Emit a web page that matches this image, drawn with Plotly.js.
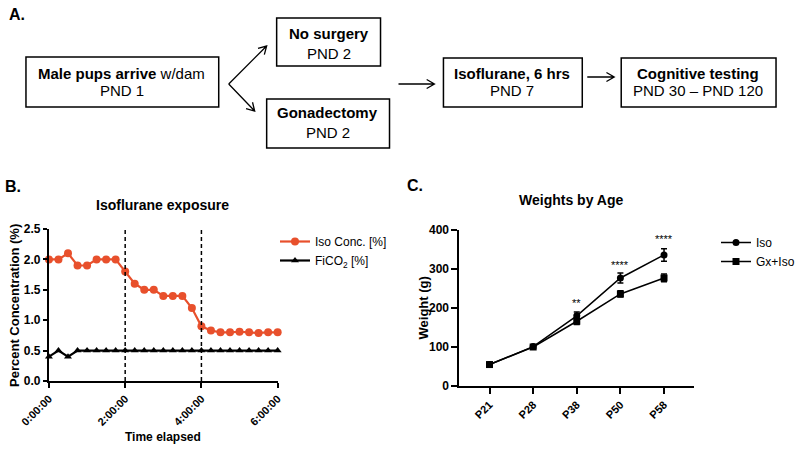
<!DOCTYPE html>
<html>
<head>
<meta charset="utf-8">
<script src="https://cdn.plot.ly/plotly-3.0.1.min.js"></script>
<style>
  body { margin: 0; background: #fff; }
  #chart { width: 800px; height: 449px; }
</style>
</head>
<body>
<div id="chart"></div>
<script>
// Panel B data - time in minutes since start of exposure
const timeMin = [0, 15, 30, 45, 60, 75, 90, 105, 120, 135, 150, 165, 180,
                 195, 210, 225, 240, 255, 270, 285, 300, 315, 330, 345, 360];
const isoConc = [2.0, 2.0, 2.1, 1.9, 1.9, 2.0, 2.0, 2.0, 1.8, 1.6, 1.5, 1.5, 1.4,
                 1.4, 1.4, 1.2, 0.9, 0.83, 0.8, 0.8, 0.81, 0.8, 0.79, 0.8, 0.8];
const fiCO2 = [0.4, 0.5, 0.4, 0.5, 0.5, 0.5, 0.5, 0.5, 0.5, 0.5, 0.5, 0.5, 0.5,
               0.5, 0.5, 0.5, 0.5, 0.5, 0.5, 0.5, 0.5, 0.5, 0.5, 0.5, 0.5];
const timeTickVals = [0, 120, 240, 360];
const timeTickText = ['0:00:00', '2:00:00', '4:00:00', '6:00:00'];
const phaseMarks = [120, 240];

// Panel C data - weights (g)
const ages = ['P21', 'P28', 'P38', 'P50', 'P58'];
const isoWeight = [55, 101, 180, 277, 336];
const isoErr = [3, 4, 10, 13, 16];
const gxWeight = [55, 100, 166, 236, 277];
const gxErr = [3, 4, 8, 8, 10];
const sigAges = ['P38', 'P50', 'P58'];
const sigY = [213, 310, 376];
const sigText = ['**', '****', '****'];

const W = 800, H = 449;
const FONT = 'Liberation Sans, Arial, sans-serif';
const ORANGE = '#E8502C';

// pixel -> paper helpers for the flow chart in panel A
const px = x => x / W;
const py = y => 1 - y / H;

function box(x0, y0, x1, y1) {
    return {
        type: 'rect', xref: 'paper', yref: 'paper',
        x0: px(x0), x1: px(x1), y0: py(y1), y1: py(y0),
        line: { color: '#000', width: 1.5 }, fillcolor: 'rgba(0,0,0,0)'
    };
}

// open "->" arrow drawn as a path
function arrow(x0, y0, x1, y1) {
    const len = Math.hypot(x1 - x0, y1 - y0);
    const ux = (x1 - x0) / len, uy = (y1 - y0) / len;
    const hl = 9, a = Math.PI / 6;
    const hx1 = x1 - hl * (ux * Math.cos(a) - uy * Math.sin(a));
    const hy1 = y1 - hl * (uy * Math.cos(a) + ux * Math.sin(a));
    const hx2 = x1 - hl * (ux * Math.cos(a) + uy * Math.sin(a));
    const hy2 = y1 - hl * (uy * Math.cos(a) - ux * Math.sin(a));
    const p = (x, y) => px(x) + ' ' + py(y);
    return {
        type: 'path', xref: 'paper', yref: 'paper',
        path: 'M ' + p(x0, y0) + ' L ' + p(x1, y1) +
              ' M ' + p(hx1, hy1) + ' L ' + p(x1, y1) + ' L ' + p(hx2, hy2),
        line: { color: '#000', width: 1.3 }
    };
}

function label(x, y, text, size, extra) {
    return Object.assign({
        xref: 'paper', yref: 'paper', x: px(x), y: py(y),
        xanchor: 'center', yanchor: 'middle',
        text: text, showarrow: false,
        font: { family: FONT, size: size, color: '#000' }
    }, extra || {});
}

const traces = [
    {
        x: timeMin, y: isoConc, name: 'Iso Conc. [%]',
        mode: 'lines+markers', cliponaxis: false,
        line: { color: ORANGE, width: 2.2 },
        marker: { color: ORANGE, size: 8, symbol: 'circle' },
        xaxis: 'x', yaxis: 'y', legend: 'legend'
    },
    {
        x: timeMin, y: fiCO2, name: 'FiCO<sub>2</sub> [%]',
        mode: 'lines+markers', cliponaxis: false,
        line: { color: '#000', width: 2.2 },
        marker: { color: '#000', size: 7, symbol: 'triangle-up' },
        xaxis: 'x', yaxis: 'y', legend: 'legend'
    },
    {
        x: ages, y: isoWeight, name: 'Iso',
        mode: 'lines+markers', cliponaxis: false,
        line: { color: '#000', width: 1.5 },
        marker: { color: '#000', size: 7, symbol: 'circle' },
        error_y: { type: 'data', array: isoErr, color: '#000', thickness: 1.5, width: 3 },
        xaxis: 'x2', yaxis: 'y2', legend: 'legend2'
    },
    {
        x: ages, y: gxWeight, name: 'Gx+Iso',
        mode: 'lines+markers', cliponaxis: false,
        line: { color: '#000', width: 1.5 },
        marker: { color: '#000', size: 7, symbol: 'square' },
        error_y: { type: 'data', array: gxErr, color: '#000', thickness: 1.5, width: 3 },
        xaxis: 'x2', yaxis: 'y2', legend: 'legend2'
    }
];

const axisBase = {
    showline: true, linecolor: '#000', linewidth: 2,
    ticks: 'outside', tickcolor: '#000', tickwidth: 2, ticklen: 5,
    showgrid: false, zeroline: false,
    tickfont: { family: FONT, size: 11, color: '#000', weight: 'bold' }
};

const shapes = [
    // panel A boxes
    box(26, 57, 219, 107),
    box(277, 18, 381, 66),
    box(267, 99, 390, 148),
    box(444, 58, 583, 107),
    box(622, 58, 777, 107),
    // panel A arrows
    arrow(229, 84, 267, 46),
    arrow(229, 84, 255, 111),
    arrow(399, 84, 435, 84),
    arrow(588, 77, 615, 77)
];
phaseMarks.forEach(t => shapes.push({
    type: 'line', xref: 'x', yref: 'y', x0: t, x1: t, y0: 0, y1: 2.5,
    line: { color: '#000', width: 1.5, dash: '4px,3px' }
}));

const annotations = [
    label(17, 14, '<b>A.</b>', 16),
    label(13, 187, '<b>B.</b>', 16),
    label(416, 185, '<b>C.</b>', 16),
    // flow chart box texts, one line each
    label(122, 74, '<b>Male pups arrive</b> w/dam', 15),
    label(122, 90, 'PND 1', 15),
    label(329, 33, '<b>No surgery</b>', 15),
    label(329, 53, 'PND 2', 15),
    label(328, 113, '<b>Gonadectomy</b>', 15),
    label(328, 132, 'PND 2', 15),
    label(513, 73, '<b>Isoflurane, 6 hrs</b>', 15),
    label(513, 90, 'PND 7', 15),
    label(699, 73, '<b>Cognitive testing</b>', 15),
    label(699, 90, 'PND 30 \u2013 PND 120', 15),
    label(163, 205, '<b>Isoflurane exposure</b>', 14),
    label(572, 200, '<b>Weights by Age</b>', 14),
    label(163, 437, '<b>Time elapsed</b>', 12),
    label(14, 305, '<b>Percent Concentration (%)</b>', 13, { textangle: -90 }),
    label(424, 308, '<b>Weight (g)</b>', 13, { textangle: -90 })
];
sigAges.forEach((a, i) => annotations.push({
    xref: 'x2', yref: 'y2', x: a, y: sigY[i], text: sigText[i],
    xanchor: 'center', yanchor: 'middle',
    showarrow: false, font: { family: FONT, size: 11, color: '#000' }
}));

const layout = {
    width: W, height: H,
    margin: { l: 0, r: 0, t: 0, b: 0 },
    paper_bgcolor: '#fff', plot_bgcolor: '#fff',
    font: { family: FONT, color: '#000' },
    xaxis: Object.assign({}, axisBase, {
        domain: [px(49), px(278)], range: [0, 360],
        tickvals: timeTickVals, ticktext: timeTickText, tickangle: -45,
        anchor: 'y'
    }),
    yaxis: Object.assign({}, axisBase, {
        domain: [py(381), py(229)], range: [0, 2.5],
        dtick: 0.5, tickformat: '.1f', anchor: 'x', ticklen: 4,
        tickfont: { family: FONT, size: 12, color: '#000', weight: 'bold' }
    }),
    xaxis2: Object.assign({}, axisBase, {
        domain: [px(460), px(695)], range: [-0.69, 4.69],
        type: 'category', tickangle: -45, anchor: 'y2', ticklen: 6
    }),
    yaxis2: Object.assign({}, axisBase, {
        domain: [py(386), py(230)], range: [0, 400],
        dtick: 100, anchor: 'x2', ticklen: 6,
        tickfont: { family: FONT, size: 12, color: '#000', weight: 'bold' }
    }),
    legend: {
        x: px(275), y: py(227), xanchor: 'left', yanchor: 'top',
        font: { family: FONT, size: 12, color: '#000' },
        bgcolor: 'rgba(0,0,0,0)'
    },
    legend2: {
        x: px(717), y: py(228), xanchor: 'left', yanchor: 'top',
        font: { family: FONT, size: 12, color: '#000' },
        bgcolor: 'rgba(0,0,0,0)'
    },
    shapes: shapes,
    annotations: annotations
};

Plotly.newPlot('chart', traces, layout, { displayModeBar: false, staticPlot: true });
</script>
</body>
</html>
